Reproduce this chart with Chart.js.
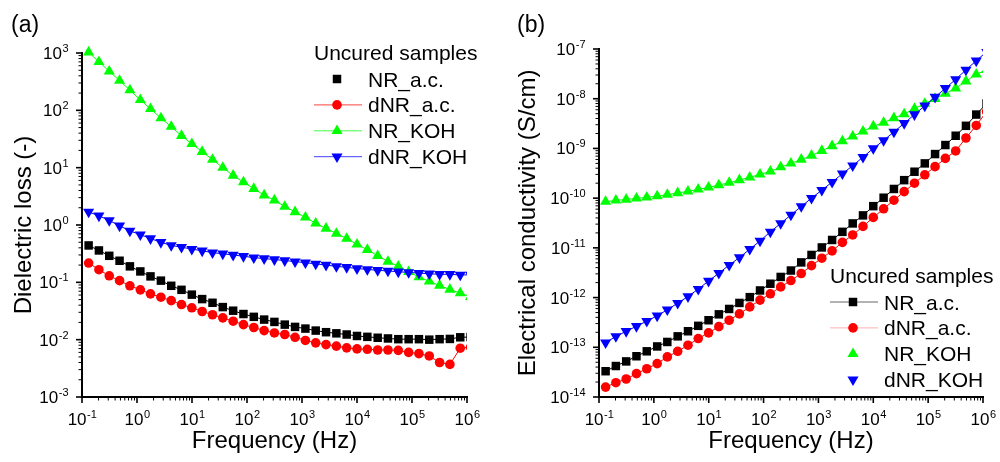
<!DOCTYPE html>
<html>
<head>
<meta charset="utf-8">
<script src="https://cdn.jsdelivr.net/npm/chart.js"></script>
<style>
  body { margin: 0; background: #fff; }
  #wrap { position: relative; width: 1000px; height: 462px; }
  canvas { position: absolute; top: 0; }
</style>
</head>
<body>
<div id="wrap">
  <canvas id="chartA" width="500" height="462" style="left:0px"></canvas>
  <canvas id="chartB" width="500" height="462" style="left:500px"></canvas>
</div>
<script>
// frequency points (Hz), same for every series
const freq = [0.132, 0.203, 0.313, 0.482, 0.743, 1.15, 1.76, 2.72, 4.19, 6.44,
  9.93, 15.3, 23.6, 36.3, 56.0, 86.2, 133, 205, 315, 486,
  748, 1153, 1776, 2735, 4217, 6494, 10000, 15420, 23770, 36560,
  56360, 86900, 133700, 206100, 317600, 488700, 753400, 1161000];

const names = ["NR_a.c.", "dNR_a.c.", "NR_KOH", "dNR_KOH"];

// (a) dielectric loss
const lossNRac = [0.44, 0.36, 0.29, 0.238, 0.19, 0.155, 0.127, 0.107, 0.087, 0.074,
  0.061, 0.051, 0.044, 0.037, 0.032, 0.028, 0.025, 0.0224, 0.0204, 0.0183,
  0.0167, 0.0156, 0.0144, 0.0135, 0.0129, 0.0123, 0.0116, 0.0112, 0.0108, 0.0105,
  0.0102, 0.0102, 0.0102, 0.0100, 0.0102, 0.0103, 0.0110, 0.0111];
const lossDNRac = [0.217, 0.166, 0.130, 0.107, 0.087, 0.074, 0.063, 0.055, 0.048, 0.041,
  0.036, 0.031, 0.0272, 0.024, 0.021, 0.0183, 0.0163, 0.0144, 0.0131, 0.0123,
  0.0110, 0.0097, 0.0088, 0.0082, 0.0077, 0.0072, 0.0069, 0.0068, 0.0066, 0.0066,
  0.0065, 0.0060, 0.0057, 0.0052, 0.0040, 0.0037, 0.0071, 0.0074];
const lossNRKOH = [1030, 700, 480, 330, 225, 152, 106, 73, 52, 36,
  26, 19, 13.8, 10, 7.3, 5.6, 4.3, 3.3, 2.7, 2.1,
  1.69, 1.36, 1.07, 0.87, 0.71, 0.58, 0.46, 0.37, 0.29, 0.23,
  0.19, 0.152, 0.124, 0.104, 0.088, 0.075, 0.065, 0.056];
const lossDNRKOH = [1.69, 1.45, 1.2, 0.97, 0.79, 0.68, 0.58, 0.50, 0.44, 0.41,
  0.38, 0.355, 0.33, 0.315, 0.30, 0.285, 0.27, 0.26, 0.25, 0.24,
  0.23, 0.22, 0.21, 0.20, 0.19, 0.183, 0.174, 0.168, 0.162, 0.158,
  0.153, 0.149, 0.145, 0.141, 0.138, 0.138, 0.135, 0.135];

// (b) electrical conductivity (S/cm)
const condNRac = [3.3e-14, 4.2e-14, 5.2e-14, 6.6e-14, 8.3e-14, 1.04e-13, 1.28e-13, 1.66e-13, 2.1e-13, 2.7e-13,
  3.5e-13, 4.6e-13, 5.9e-13, 7.8e-13, 1.02e-12, 1.39e-12, 1.9e-12, 2.6e-12, 3.5e-12, 5.1e-12,
  7.2e-12, 1.02e-11, 1.44e-11, 2.1e-11, 3.1e-11, 4.5e-11, 6.9e-11, 1.02e-10, 1.53e-10, 2.3e-10,
  3.4e-10, 5.0e-10, 7.7e-10, 1.17e-9, 1.8e-9, 2.85e-9, 4.8e-9, 8.0e-9];
const condDNRac = [1.58e-14, 1.94e-14, 2.3e-14, 2.95e-14, 3.7e-14, 4.7e-14, 6.4e-14, 8.3e-14, 1.1e-13, 1.5e-13,
  1.95e-13, 2.6e-13, 3.5e-13, 4.7e-13, 6.5e-13, 8.9e-13, 1.19e-12, 1.64e-12, 2.2e-12, 3.05e-12,
  4.4e-12, 6.2e-12, 8.7e-12, 1.29e-11, 1.82e-11, 2.7e-11, 4.1e-11, 6.1e-11, 9.1e-11, 1.35e-10,
  2.0e-10, 2.95e-10, 4.3e-10, 6.3e-10, 8.9e-10, 1.62e-9, 2.9e-9, 5.5e-9];
const condNRKOH = [8.5e-11, 9.0e-11, 9.4e-11, 9.9e-11, 1.04e-10, 1.1e-10, 1.18e-10, 1.27e-10, 1.37e-10, 1.5e-10,
  1.65e-10, 1.83e-10, 2.05e-10, 2.32e-10, 2.62e-10, 3.0e-10, 3.45e-10, 4.2e-10, 5.0e-10, 6.0e-10,
  7.2e-10, 9.0e-10, 1.12e-9, 1.4e-9, 1.75e-9, 2.2e-9, 2.8e-9, 3.3e-9, 4.1e-9, 4.9e-9,
  6.3e-9, 8.0e-9, 1.0e-8, 1.27e-8, 1.62e-8, 2.25e-8, 3.1e-8, 3.8e-8];
const condDNRKOH = [1.24e-13, 1.65e-13, 2.1e-13, 2.65e-13, 3.35e-13, 4.3e-13, 5.7e-13, 7.7e-13, 1.05e-12, 1.48e-12,
  2.15e-12, 3.1e-12, 4.5e-12, 6.4e-12, 9.4e-12, 1.38e-11, 2.1e-11, 3.1e-11, 4.6e-11, 6.8e-11,
  1.0e-10, 1.45e-10, 2.1e-10, 3.1e-10, 4.5e-10, 6.7e-10, 1.0e-9, 1.45e-9, 2.15e-9, 3.2e-9,
  4.8e-9, 7.2e-9, 1.08e-8, 1.62e-8, 2.45e-8, 3.8e-8, 5.8e-8, 8.8e-8];

// tick label exponents (10^n)
const xExps = [-1, 0, 1, 2, 3, 4, 5, 6];
const yExpsA = [-3, -2, -1, 0, 1, 2, 3];
const yExpsB = [-14, -13, -12, -11, -10, -9, -8, -7];

// marker styles
const colors = ["#000000", "#ff0000", "#00ff00", "#0000ff"];
const shapes = ["rect", "circle", "triangle", "triangle"];
const rotations = [0, 0, 0, 180];
const radii = [6.0, 4.8, 6.4, 6.4];
const FONT = "'Liberation Sans', Arial, Helvetica, sans-serif";

function makeSets(series, clip) {
  return series.map(function (vals, k) {
    return {
      label: names[k],
      data: freq.map(function (f, i) { return { x: f, y: vals[i] }; }),
      borderColor: colors[k],
      backgroundColor: colors[k],
      borderWidth: 1,
      pointStyle: shapes[k],
      pointRotation: rotations[k],
      pointRadius: radii[k],
      pointBorderWidth: 0,
      pointBackgroundColor: colors[k],
      order: 4 - k,
      clip: clip,
    };
  });
}

// 10 with a raised exponent
function powLabel(ctx, x, y, exp, align) {
  ctx.font = "17px " + FONT;
  let w1 = ctx.measureText("10").width;
  ctx.font = "11px " + FONT;
  let e = String(exp);
  let w2 = ctx.measureText(e).width;
  let left = align === "center" ? x - (w1 + w2) / 2 : x - (w1 + w2);
  ctx.textAlign = "left";
  ctx.textBaseline = "alphabetic";
  ctx.font = "17px " + FONT;
  ctx.fillText("10", left, y);
  ctx.font = "11px " + FONT;
  ctx.fillText(e, left + w1 + 0.5, y - 7);
}

function marker(ctx, k, x, y) {
  let r = radii[k];
  ctx.fillStyle = colors[k];
  ctx.beginPath();
  if (shapes[k] === "rect") {
    let s = r * Math.SQRT1_2;
    ctx.rect(x - s, y - s, 2 * s, 2 * s);
  } else if (shapes[k] === "circle") {
    ctx.arc(x, y, r, 0, Math.PI * 2);
  } else {
    let d = rotations[k] ? -1 : 1;
    ctx.moveTo(x, y - d * r);
    ctx.lineTo(x + r * 0.866, y + d * r / 2);
    ctx.lineTo(x - r * 0.866, y + d * r / 2);
    ctx.closePath();
  }
  ctx.fill();
}

function logTicks(ctx, scale, exps, horizontal, edge) {
  for (let e = exps[0]; e <= exps[exps.length - 1]; e++) {
    for (let m = 1; m <= 9; m++) {
      if (e === exps[exps.length - 1] && m > 1) break;
      let p = scale.getPixelForValue(m * Math.pow(10, e));
      let len = m === 1 ? 6 : 3.5;
      ctx.lineWidth = m === 1 ? 1.6 : 1;
      ctx.beginPath();
      if (horizontal) {
        ctx.moveTo(p, edge);
        ctx.lineTo(p, edge + len);
      } else {
        ctx.moveTo(edge, p);
        ctx.lineTo(edge - len, p);
      }
      ctx.stroke();
    }
  }
}

const decor = {
  id: "decor",
  afterDraw(chart, args, o) {
    const ctx = chart.ctx;
    const a = chart.chartArea;
    const xs = chart.scales.x, ys = chart.scales.y;
    ctx.save();
    ctx.fillStyle = "#000";
    ctx.strokeStyle = "#000";

    // tick marks
    logTicks(ctx, xs, xExps, true, a.bottom);
    logTicks(ctx, ys, o.yExps, false, a.left);

    // tick labels
    ctx.fillStyle = "#000";
    xExps.forEach(function (e) {
      powLabel(ctx, xs.getPixelForValue(Math.pow(10, e)), a.bottom + 28, e, "center");
    });
    o.yExps.forEach(function (e) {
      powLabel(ctx, a.left - 14, ys.getPixelForValue(Math.pow(10, e)) + 6, e, "right");
    });

    // axis titles
    ctx.font = "24px " + FONT;
    ctx.textAlign = "center";
    ctx.textBaseline = "alphabetic";
    ctx.fillText("Frequency (Hz)", (a.left + a.right) / 2, 448);
    ctx.save();
    ctx.translate(o.yTitleX, (a.top + a.bottom) / 2);
    ctx.rotate(-Math.PI / 2);
    ctx.fillText(o.yTitle, 0, 0);
    ctx.restore();

    // panel tag
    ctx.font = "23px " + FONT;
    ctx.textAlign = "left";
    ctx.fillText(o.tag, o.tagX, 32);

    // legend
    let L = o.legend;
    ctx.font = "21px " + FONT;
    ctx.fillText("Uncured samples", L.x, L.y);
    for (let k = 0; k < 4; k++) {
      let cy = L.y + 19 + k * 25.9;
      if (L.lines[k]) {
        ctx.strokeStyle = L.lines[k];
        ctx.lineWidth = 1;
        ctx.beginPath();
        ctx.moveTo(L.x, cy);
        ctx.lineTo(L.x + 48, cy);
        ctx.stroke();
      }
      marker(ctx, k, L.x + 23, cy);
      ctx.fillStyle = "#000";
      ctx.font = "21px " + FONT;
      ctx.fillText(names[k], L.x + 54, cy + 7.5);
    }
    ctx.restore();
  },
};

function logAxis(min, max, size, horizontal) {
  return {
    type: "logarithmic",
    min: min,
    max: max,
    ticks: { display: false },
    grid: { display: false },
    border: { display: true, color: "#000", width: 2 },
    afterFit: function (s) {
      if (horizontal) s.height = size;
      else s.width = size;
    },
  };
}

let chartA = new Chart(document.getElementById("chartA"), {
  type: "line",
  data: { datasets: makeSets([lossNRac, lossDNRac, lossNRKOH, lossDNRKOH], { left: 8, top: 8, right: 0, bottom: 0 }) },
  options: {
    responsive: false,
    animation: false,
    layout: { padding: { left: 0, top: 53, right: 33, bottom: 0 } },
    scales: {
      x: logAxis(0.1, 1e6, 65, true),
      y: logAxis(1e-3, 1e3, 82, false),
    },
    plugins: {
      legend: { display: false },
      tooltip: { enabled: false },
      decor: {
        yExps: yExpsA,
        yTitle: "Dielectric loss (-)",
        yTitleX: 31,
        tag: "(a)",
        tagX: 11,
        legend: { x: 314, y: 60, lines: [null, "#ff4040", "#40ff40", "#4040ff"] },
      },
    },
  },
  plugins: [decor],
});

let chartB = new Chart(document.getElementById("chartB"), {
  type: "line",
  data: { datasets: makeSets([condNRac, condDNRac, condNRKOH, condDNRKOH], { left: 8, top: 0, right: 0, bottom: 0 }) },
  options: {
    responsive: false,
    animation: false,
    layout: { padding: { left: 0, top: 49, right: 17, bottom: 0 } },
    scales: {
      x: logAxis(0.1, 1e6, 65, true),
      y: logAxis(1e-14, 1e-7, 99, false),
    },
    plugins: {
      legend: { display: false },
      tooltip: { enabled: false },
      decor: {
        yExps: yExpsB,
        yTitle: "Electrical conductivity (S/cm)",
        yTitleX: 35,
        tag: "(b)",
        tagX: 17,
        legend: { x: 330, y: 283, lines: ["#666666", "#ffb0b0", null, null] },
      },
    },
  },
  plugins: [decor],
});
</script>
</body>
</html>
